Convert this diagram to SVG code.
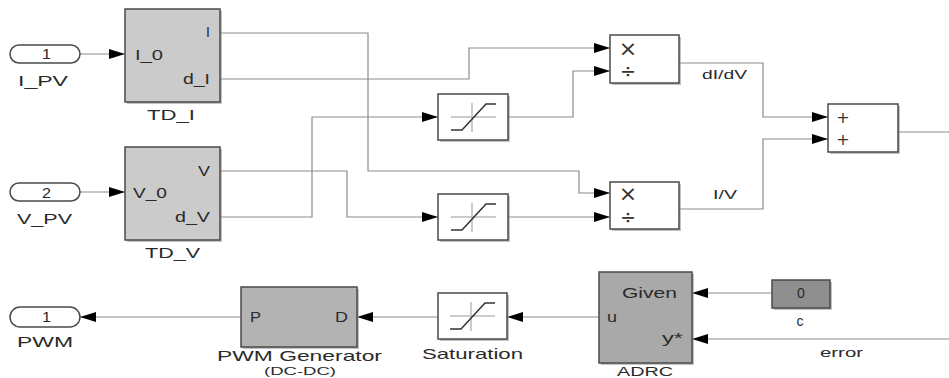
<svg xmlns="http://www.w3.org/2000/svg" width="949" height="378" viewBox="0 0 949 378">
<style>
text{font-family:"Liberation Sans",Arial,sans-serif;fill:#2a2a2a;font-size:14px}
.blk{stroke:#4a4a4a;stroke-width:1.5}
.w{fill:#fff}
.g1{fill:#cbcbcb}
.g2{fill:#b3b3b3}
.g3{fill:#a9a9a9}
.g4{fill:#8f8f8f}
.sh{fill:#9a9a9a;opacity:.6}
.port{fill:#fff;stroke:#4a4a4a;stroke-width:1.5}
.c{fill:none;stroke:#8c8c8c;stroke-width:1.2}
.ic{fill:none;stroke:#333;stroke-width:1.5}
.icl{fill:none;stroke:#bbb;stroke-width:1.5}
.lbl{font-size:15px}
.sm{font-size:12px}
.sym{font-family:"DejaVu Sans",sans-serif;font-size:22px;text-anchor:middle;fill:#333}
.div{font-family:"DejaVu Sans",sans-serif;font-size:19px;text-anchor:middle;fill:#333}
.pl{font-family:"DejaVu Sans",sans-serif;font-size:16px;text-anchor:middle;fill:#333}
</style>
<defs>
<marker id="ah" viewBox="0 0 16 10" refX="16" refY="5" markerWidth="16" markerHeight="10" markerUnits="userSpaceOnUse" orient="auto">
<path d="M0,0 L16,5 L0,10 z" fill="#000"/>
</marker>
<g id="satIcon">
<path class="icl" d="M-22,0 H23 M-1,-14 V15"/>
<path class="ic" d="M-22,13 H-11 L13,-13 H23"/>
</g>
</defs>

<g id="connectors">
<path class="c" marker-end="url(#ah)" d="M80,54 H125"/>
<path class="c" marker-end="url(#ah)" d="M80,192 H125"/>
<path class="c" marker-end="url(#ah)" d="M220,33 H368 V171 H579 V193 H610"/>
<path class="c" marker-end="url(#ah)" d="M220,79 H469 V48 H610"/>
<path class="c" marker-end="url(#ah)" d="M220,171 H347 V217 H438"/>
<path class="c" marker-end="url(#ah)" d="M220,217 H312 V117 H438"/>
<path class="c" marker-end="url(#ah)" d="M508,117 H573 V71 H610"/>
<path class="c" marker-end="url(#ah)" d="M508,217 H610"/>
<path class="c" marker-end="url(#ah)" d="M679,63 H763 V117 H828"/>
<path class="c" marker-end="url(#ah)" d="M679,209 H763 V139 H828"/>
<path class="c" d="M898,132 H949"/>
<path class="c" marker-end="url(#ah)" d="M772,293 H692"/>
<path class="c" marker-end="url(#ah)" d="M949,339 H692"/>
<path class="c" marker-end="url(#ah)" d="M599,317 H507"/>
<path class="c" marker-end="url(#ah)" d="M438,317 H357"/>
<path class="c" marker-end="url(#ah)" d="M241,317 H80"/>
<text class="sm" x="702" y="79" textLength="45" lengthAdjust="spacingAndGlyphs">dI/dV</text>
<text class="sm" x="713" y="199" textLength="24" lengthAdjust="spacingAndGlyphs">I/V</text>
<text class="sm" x="820" y="357" textLength="43" lengthAdjust="spacingAndGlyphs">error</text>
</g>

<g id="in_IPV">
<rect class="port" x="10" y="45" width="70" height="18" rx="9"/>
<text x="42" y="59" textLength="9" lengthAdjust="spacingAndGlyphs">1</text>
<text x="18" y="86" textLength="50" lengthAdjust="spacingAndGlyphs">I_PV</text>
</g>

<g id="in_VPV">
<rect class="port" x="10" y="183" width="70" height="18" rx="9"/>
<text x="42" y="198" textLength="9" lengthAdjust="spacingAndGlyphs">2</text>
<text x="17" y="224" textLength="55" lengthAdjust="spacingAndGlyphs">V_PV</text>
</g>

<g id="TD_I">
<rect class="sh" x="127" y="11" width="95" height="93"/>
<rect class="blk g1" x="125" y="9" width="95" height="93"/>
<text x="135" y="60" textLength="28" lengthAdjust="spacingAndGlyphs">I_0</text>
<text x="206" y="37">I</text>
<text x="183" y="84" textLength="27" lengthAdjust="spacingAndGlyphs">d_I</text>
<text class="lbl" x="147" y="120" textLength="48" lengthAdjust="spacingAndGlyphs">TD_I</text>
</g>

<g id="TD_V">
<rect class="sh" x="127" y="149" width="95" height="93"/>
<rect class="blk g1" x="125" y="147" width="95" height="93"/>
<text x="133" y="198" textLength="34" lengthAdjust="spacingAndGlyphs">V_0</text>
<text x="198" y="176" textLength="12" lengthAdjust="spacingAndGlyphs">V</text>
<text x="175" y="222" textLength="35" lengthAdjust="spacingAndGlyphs">d_V</text>
<text class="lbl" x="145" y="258" textLength="55" lengthAdjust="spacingAndGlyphs">TD_V</text>
</g>

<g id="Sat1">
<rect class="sh" x="440" y="96" width="70" height="46"/>
<rect class="blk w" x="438" y="94" width="70" height="46"/>
<use href="#satIcon" x="473" y="117"/>
</g>

<g id="Sat2">
<rect class="sh" x="440" y="196" width="70" height="46"/>
<rect class="blk w" x="438" y="194" width="70" height="46"/>
<use href="#satIcon" x="473" y="217"/>
</g>

<g id="Product1">
<rect class="sh" x="612" y="37" width="69" height="48"/>
<rect class="blk w" x="610" y="35" width="69" height="48"/>
<text class="sym" x="628" y="56">×</text>
<text class="div" x="628" y="78">÷</text>
</g>

<g id="Product2">
<rect class="sh" x="612" y="184" width="69" height="47"/>
<rect class="blk w" x="610" y="182" width="69" height="47"/>
<text class="sym" x="628" y="201">×</text>
<text class="div" x="628" y="224">÷</text>
</g>

<g id="Sum">
<rect class="sh" x="830" y="106" width="70" height="48"/>
<rect class="blk w" x="828" y="104" width="70" height="48"/>
<text class="pl" x="843" y="123">+</text>
<text class="pl" x="843" y="145">+</text>
</g>

<g id="out_PWM">
<rect class="port" x="10" y="307" width="70" height="20" rx="10"/>
<text x="42" y="322" textLength="9" lengthAdjust="spacingAndGlyphs">1</text>
<text x="17" y="347" textLength="56" lengthAdjust="spacingAndGlyphs">PWM</text>
</g>

<g id="PWMGen">
<rect class="sh" x="243" y="289" width="116" height="60"/>
<rect class="blk g2" x="241" y="287" width="116" height="60"/>
<text x="250" y="322" textLength="11" lengthAdjust="spacingAndGlyphs">P</text>
<text x="335" y="322" textLength="13" lengthAdjust="spacingAndGlyphs">D</text>
<text class="lbl" x="217" y="361" textLength="165" lengthAdjust="spacingAndGlyphs">PWM Generator</text>
<text x="264" y="375" style="font-size:11px" textLength="72" lengthAdjust="spacingAndGlyphs">(DC-DC)</text>
</g>

<g id="Saturation">
<rect class="sh" x="440" y="295" width="69" height="46"/>
<rect class="blk w" x="438" y="293" width="69" height="46"/>
<use href="#satIcon" x="472" y="316"/>
<text class="lbl" x="422" y="359" textLength="101" lengthAdjust="spacingAndGlyphs">Saturation</text>
</g>

<g id="ADRC">
<rect class="sh" x="601" y="274" width="93" height="91"/>
<rect class="blk g3" x="599" y="272" width="93" height="91"/>
<text x="622" y="298" textLength="55" lengthAdjust="spacingAndGlyphs">Given</text>
<text x="607" y="322" textLength="10" lengthAdjust="spacingAndGlyphs">u</text>
<text x="662" y="343" textLength="21" lengthAdjust="spacingAndGlyphs">y*</text>
<text x="617" y="376" style="font-size:12px" textLength="56" lengthAdjust="spacingAndGlyphs">ADRC</text>
</g>

<g id="Const_c">
<rect class="sh" x="774" y="282" width="58" height="28"/>
<rect class="blk g4" x="772" y="280" width="58" height="28"/>
<text x="801" y="298" text-anchor="middle">0</text>
<text x="800" y="326" text-anchor="middle">c</text>
</g>
</svg>
